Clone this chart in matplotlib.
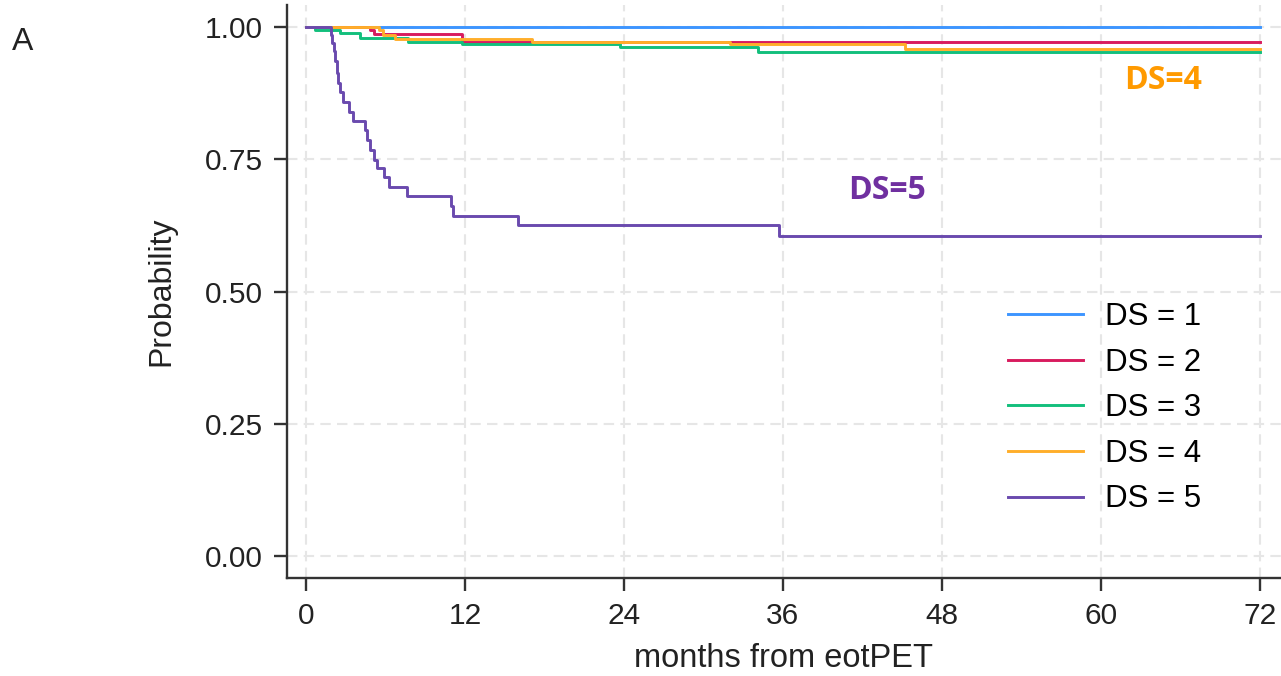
import matplotlib
matplotlib.use("Agg")
import matplotlib.pyplot as plt

# Kaplan-Meier style curves by Deauville score
ds1_t = [0, 72]
ds1_s = [1.0, 1.0]

ds2_t = [0, 4.8, 5.1, 11.8, 72]
ds2_s = [1.0, 0.994, 0.987, 0.972, 0.972]

ds3_t = [0, 0.7, 2.57, 4.1, 7.7, 11.8, 23.7, 34.1, 72]
ds3_s = [1.0, 0.995, 0.988, 0.980, 0.972, 0.967, 0.962, 0.953, 0.953]

ds4_t = [0, 5.5, 5.8, 6.7, 17.1, 32.0, 45.2, 72]
ds4_s = [1.0, 0.994, 0.985, 0.977, 0.972, 0.968, 0.959, 0.959]

ds5_t = [0, 1.9, 2.0, 2.1, 2.2, 2.34, 2.45, 2.57, 2.82, 3.27, 3.57, 4.45,
         4.63, 4.83, 5.14, 5.39, 5.89, 6.29, 7.61, 10.95, 11.13, 16.03, 35.7, 72]
ds5_s = [1.0, 0.985, 0.97, 0.955, 0.935, 0.913, 0.895, 0.878, 0.859, 0.840,
         0.823, 0.805, 0.787, 0.768, 0.749, 0.733, 0.716, 0.697, 0.680, 0.661,
         0.643, 0.625, 0.604, 0.604]

labels = ["DS = 1", "DS = 2", "DS = 3", "DS = 4", "DS = 5"]
colors = ["#3D95FF", "#D81B5E", "#12BF7C", "#FFAE2A", "#6A4AAE"]
xticks = [0, 12, 24, 36, 48, 60, 72]
yticks = [0.0, 0.25, 0.5, 0.75, 1.0]

plt.rcParams["font.family"] = ["Liberation Sans", "DejaVu Sans"]

W, H = 1281, 676
fig = plt.figure(figsize=(W / 100, H / 100), dpi=100)
ax = fig.add_axes([287 / W, (H - 578) / H, (W - 287) / W, (578 - 5) / H])

series = [(ds1_t, ds1_s), (ds2_t, ds2_s), (ds3_t, ds3_s), (ds4_t, ds4_s), (ds5_t, ds5_s)]
for (t, s), lab, col in zip(series, labels, colors):
    ax.step(t, s, where="post", color=col, lw=2.1, label=lab)

ax.set_xlim(-1.43, 73.6)
ax.set_ylim(-0.0415, 1.0415)
ax.set_xticks(xticks)
ax.set_yticks(yticks)
ax.set_yticklabels([f"{v:.2f}" for v in yticks])

ax.grid(True, color="#E6E6E6", lw=1.5, linestyle=(0, (5.0, 3.0)))
ax.set_axisbelow(True)

for side in ["top", "right"]:
    ax.spines[side].set_visible(False)
for side in ["left", "bottom"]:
    ax.spines[side].set_color("#333333")
    ax.spines[side].set_linewidth(1.7)
ax.tick_params(length=9.5, width=1.7, color="#333333", labelsize=21.5,
               labelcolor="#222222", pad=8)

ax.set_xlabel("months from eotPET", fontsize=23.5, color="#222222", labelpad=9)
ax.set_ylabel("Probability", fontsize=23, color="#222222", labelpad=20)

ax.legend(loc="upper left", bbox_to_anchor=(1008 / W, 1 - 302 / H),
          bbox_transform=fig.transFigure, frameon=False, fontsize=22.5,
          handlelength=2.4, handletextpad=0.7, labelspacing=0.5,
          borderpad=0, borderaxespad=0)

ax.text(64.7, 0.898, "DS=4", color="#FF9A00", fontsize=23, fontweight="bold",
        family="Open Sans", ha="center", va="center")
ax.text(43.85, 0.690, "DS=5", color="#7030A0", fontsize=23, fontweight="bold",
        family="Open Sans", ha="center", va="center")

fig.text(12 / W, 1 - 50 / H, "A", fontsize=23, color="#222222")

fig.savefig("out.png", dpi=100)
